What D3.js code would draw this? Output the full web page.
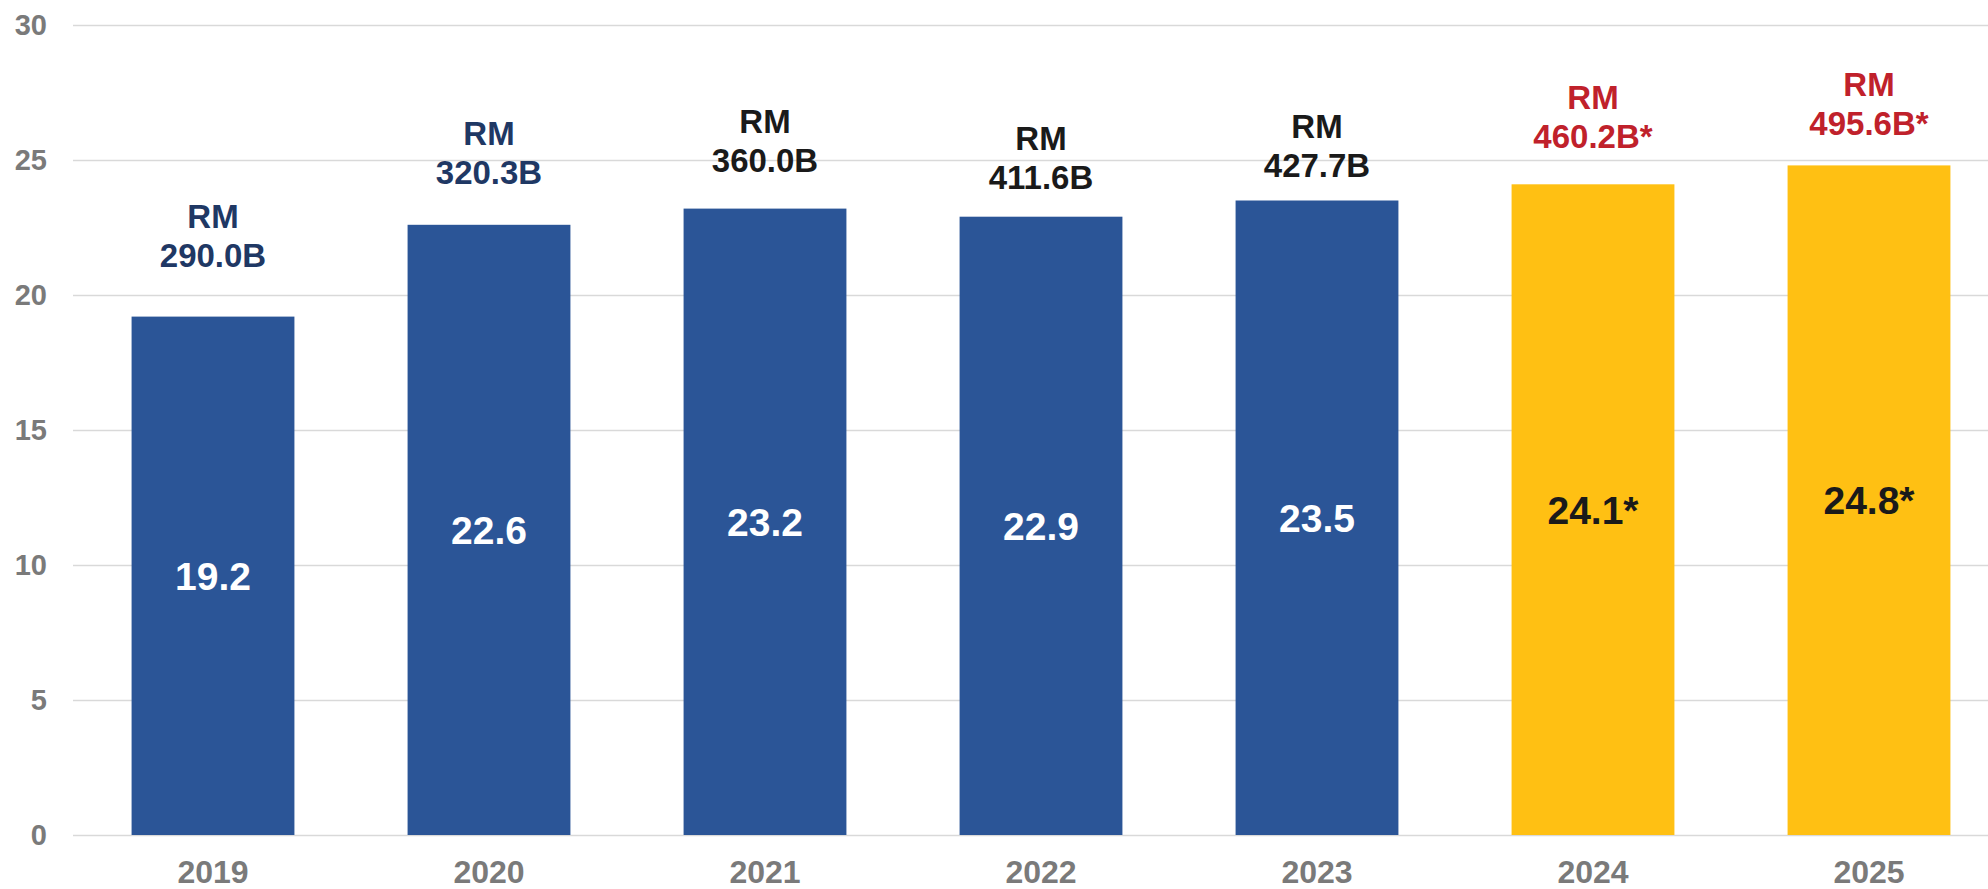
<!DOCTYPE html>
<html>
<head>
<meta charset="utf-8">
<script src="https://cdn.jsdelivr.net/npm/d3@7"></script>
<style>
  body { margin: 0; background: #fff; }
  text { font-family: "Liberation Sans", Arial, sans-serif; font-weight: bold; }
</style>
</head>
<body>
<div id="canvas"></div>
<script>
// Data
var years = ["2019", "2020", "2021", "2022", "2023", "2024", "2025"];
var values = [19.2, 22.6, 23.2, 22.9, 23.5, 24.1, 24.8];
var valueLabels = ["19.2", "22.6", "23.2", "22.9", "23.5", "24.1*", "24.8*"];
var amountLabels = ["290.0B", "320.3B", "360.0B", "411.6B", "427.7B", "460.2B*", "495.6B*"];
var forecast = [false, false, false, false, false, true, true];
var yTicks = [0, 5, 10, 15, 20, 25, 30];

// how far the "RM" text sits above each bar (hand placed in the original)
var rmLift = [50, 41, 37, 28, 24, 36, 30];
var rmColor = ["#1f3864", "#1f3864", "#1a1a1a", "#1a1a1a", "#1a1a1a", "#c0212b", "#c0212b"];

var w = 1988, h = 889;
var left = 73, zeroY = 835, topY = 25;

var svg = d3.select("#canvas")
    .append("svg")
    .attr("width", w)
    .attr("height", h);

var x = d3.scaleBand()
    .domain(years)
    .range([75, 75 + 7 * 276])
    .paddingInner(0.41)
    .paddingOuter(0.205);

var y = d3.scaleLinear()
    .domain([0, 30])
    .range([zeroY, topY]);

// gridlines + y labels
var yAxis = svg.append("g")
    .attr("transform", `translate(${left},0)`)
    .call(d3.axisLeft(y).tickValues(yTicks).tickSize(-(w - left)).tickPadding(26));
yAxis.select(".domain").remove();
yAxis.selectAll(".tick line").attr("stroke", "#d9d9d9").attr("stroke-width", 1.5);
yAxis.selectAll(".tick text")
    .attr("fill", "#7a7a7a")
    .style("font-size", "29px");

// bars
svg.selectAll("rect.bar")
    .data(years)
    .join("rect")
    .attr("class", "bar")
    .attr("x", d => x(d))
    .attr("width", x.bandwidth())
    .attr("y", (d, i) => y(values[i]))
    .attr("height", (d, i) => zeroY - y(values[i]))
    .attr("fill", (d, i) => forecast[i] ? "#ffc013" : "#2b5597");

// value inside bar
svg.selectAll("text.val")
    .data(years)
    .join("text")
    .attr("class", "val")
    .attr("x", d => x(d) + x.bandwidth() / 2)
    .attr("y", (d, i) => (y(values[i]) + zeroY) / 2 + 14)
    .attr("text-anchor", "middle")
    .attr("fill", (d, i) => forecast[i] ? "#1a1a1a" : "#ffffff")
    .style("font-size", "39px")
    .text((d, i) => valueLabels[i]);

// RM amount above bar
var rm = svg.selectAll("text.rm")
    .data(years)
    .join("text")
    .attr("class", "rm")
    .attr("text-anchor", "middle")
    .attr("fill", (d, i) => rmColor[i])
    .style("font-size", "33px");
rm.append("tspan")
    .attr("x", d => x(d) + x.bandwidth() / 2)
    .attr("y", (d, i) => y(values[i]) - rmLift[i] - 39)
    .text("RM");
rm.append("tspan")
    .attr("x", d => x(d) + x.bandwidth() / 2)
    .attr("y", (d, i) => y(values[i]) - rmLift[i])
    .text((d, i) => amountLabels[i]);

// x axis labels
var xAxis = svg.append("g")
    .attr("transform", `translate(0,${zeroY})`)
    .call(d3.axisBottom(x).tickSize(0).tickPadding(25));
xAxis.select(".domain").remove();
xAxis.selectAll(".tick text")
    .attr("fill", "#7a7a7a")
    .style("font-size", "32px");
</script>
</body>
</html>
